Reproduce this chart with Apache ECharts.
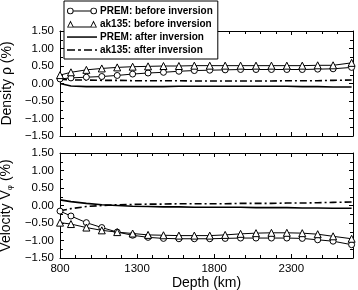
<!DOCTYPE html>
<html lang="en">
<head>
    <meta charset="UTF-8">
    <title>Density and velocity perturbation</title>
    <style>
        html, body { margin: 0; padding: 0; background: #fff; }
        #chart { width: 358px; height: 290px; }
    </style>
</head>
<body>
    <div id="chart"></div>
    <script src="https://cdn.jsdelivr.net/npm/echarts@6/dist/echarts.min.js"></script>
    <script type="text/javascript">
        // depth samples (km)
        var depth = [800, 871, 971, 1071, 1171, 1271, 1371, 1471, 1571, 1671,
            1771, 1871, 1971, 2071, 2171, 2271, 2371, 2471, 2571, 2691]

        // density perturbation (%)
        var rho_prem_before = [0.13, 0.16, 0.18, 0.20, 0.23, 0.27, 0.30, 0.32, 0.35, 0.37,
            0.38, 0.39, 0.40, 0.40, 0.40, 0.40, 0.40, 0.41, 0.42, 0.46]
        var rho_ak_before = [0.24, 0.32, 0.39, 0.43, 0.46, 0.48, 0.49, 0.50, 0.50, 0.51,
            0.51, 0.51, 0.51, 0.51, 0.51, 0.51, 0.51, 0.52, 0.52, 0.59]
        var rho_prem_after = [0.00, -0.07, -0.09, -0.09, -0.09, -0.09, -0.09, -0.09, -0.08, -0.08,
            -0.08, -0.08, -0.08, -0.08, -0.08, -0.08, -0.09, -0.09, -0.10, -0.10]
        var rho_ak_after = [0.12, 0.10, 0.10, 0.09, 0.09, 0.08, 0.08, 0.08, 0.08, 0.07,
            0.07, 0.07, 0.07, 0.07, 0.07, 0.08, 0.08, 0.08, 0.09, 0.10]

        // bulk sound velocity perturbation (%)
        var vphi_prem_before = [-0.16, -0.30, -0.49, -0.63, -0.76, -0.85, -0.91, -0.94, -0.95, -0.95,
            -0.95, -0.94, -0.93, -0.93, -0.93, -0.93, -0.94, -0.98, -1.02, -1.12]
        var vphi_ak_before = [-0.49, -0.53, -0.63, -0.71, -0.76, -0.80, -0.84, -0.85, -0.86, -0.86,
            -0.86, -0.84, -0.81, -0.79, -0.78, -0.78, -0.79, -0.82, -0.88, -0.95]
        var vphi_prem_after = [0.16, 0.11, 0.06, 0.02, 0.00, -0.02, -0.03, -0.04, -0.04, -0.05,
            -0.05, -0.05, -0.05, -0.06, -0.06, -0.06, -0.07, -0.07, -0.08, -0.08]
        var vphi_ak_after = [-0.15, -0.09, -0.03, 0.00, 0.02, 0.03, 0.04, 0.04, 0.05, 0.05,
            0.05, 0.05, 0.06, 0.06, 0.06, 0.07, 0.07, 0.08, 0.09, 0.10]

        var names = ['PREM: before inversion', 'ak135: before inversion',
            'PREM: after inversion', 'ak135: after inversion']
        var x_ticks = [800, 1300, 1800, 2300]

        var font = "'Liberation Sans', Arial, Helvetica, sans-serif"

        // legend icons drawn in a 30x8 box: marker - line - marker, like the paper's key
        var box = 'M0,0 M30,8 '
        var ring = (cx) => `M${cx - 3.3},4 A3.3,3.3 0 1,1 ${cx + 3.3},4 A3.3,3.3 0 1,1 ${cx - 3.3},4 Z ` +
            `M${cx - 2.4},4 A2.4,2.4 0 1,0 ${cx + 2.4},4 A2.4,2.4 0 1,0 ${cx - 2.4},4 Z `
        var tri = (cx) => `M${cx - 3.5},7.5 L${cx},0.6 L${cx + 3.5},7.5 Z ` +
            `M${cx - 2.2},6.8 L${cx + 2.2},6.8 L${cx},2.4 Z `
        var icons = [
            'path://' + box + ring(3.3) + 'M6.6,3.5 H23.4 V4.5 H6.6 Z ' + ring(26.7),
            'path://' + box + tri(3.5) + 'M6.5,6.6 H23.5 V7.5 H6.5 Z ' + tri(26.5),
            'path://' + box + 'M0,3.3 H30 V4.8 H0 Z',
            'path://' + box + 'M0,3.3 H8 V4.8 H0 Z M11,3.3 H14 V4.8 H11 Z M17,3.3 H25 V4.8 H17 Z M28,3.3 H30 V4.8 H28 Z'
        ]

        function pairs(ys) {
            return depth.map((d, i) => [d, ys[i]])
        }
        function fmt(v) {
            return (v < 0 ? '\u2212' : '') + Math.abs(v).toFixed(2)
        }

        // one axis of the frame; labels only where asked
        function xAxis(grid, pos, labels) {
            return {
                type: 'value', gridIndex: grid, position: pos,
                min: 800, max: 2700, interval: 500,
                axisLine: { show: true, onZero: false, lineStyle: { color: '#000', width: 1 } },
                axisTick: { show: true, inside: true, length: 4, lineStyle: { color: '#000' } },
                minorTick: { show: true, splitNumber: 5, length: 3, lineStyle: { color: '#000' } },
                splitLine: { show: false },
                axisLabel: {
                    show: labels, margin: 5, fontSize: 11.5, color: '#000', fontFamily: font,
                    showMaxLabel: false,
                    formatter: v => x_ticks.indexOf(v) >= 0 ? String(v) : ''
                },
                name: labels ? 'Depth (km)' : '',
                nameLocation: 'middle', nameGap: 17,
                nameTextStyle: { fontSize: 14, color: '#000', fontFamily: font }
            }
        }
        function yAxis(grid, pos, name) {
            return {
                type: 'value', gridIndex: grid, position: pos,
                min: -1.5, max: 1.5, interval: 0.5,
                axisLine: { show: true, onZero: false, lineStyle: { color: '#000', width: 1 } },
                axisTick: { show: true, inside: true, length: 4, lineStyle: { color: '#000' } },
                minorTick: { show: true, splitNumber: 2, length: 3, lineStyle: { color: '#000' } },
                splitLine: { show: false },
                axisLabel: {
                    show: !!name, margin: 6, fontSize: 11.5, color: '#000', fontFamily: font,
                    formatter: fmt
                },
                name: name || '',
                nameLocation: 'middle', nameGap: 42, nameRotate: 90,
                nameTextStyle: {
                    fontSize: 14, color: '#000', fontFamily: font,
                    rich: {
                        a: { fontSize: 14, color: '#000', fontFamily: font },
                        s: { fontSize: 8, color: '#000', fontFamily: font, padding: [8, 0, 0, 0] }
                    }
                }
            }
        }

        function marked(name, ys, grid, sym) {
            return {
                name: name, type: 'line', xAxisIndex: grid * 2, yAxisIndex: grid * 2,
                data: pairs(ys), symbol: sym, symbolSize: sym == 'circle' ? 6 : 7, showSymbol: true,
                lineStyle: { color: '#000', width: 1 },
                itemStyle: { color: '#fff', borderColor: '#000', borderWidth: 1 },
                z: 3
            }
        }
        function plain(name, ys, grid, type) {
            return {
                name: name, type: 'line', xAxisIndex: grid * 2, yAxisIndex: grid * 2,
                data: pairs(ys), symbol: 'none',
                lineStyle: { color: '#000', width: 1.6, type: type },
                itemStyle: { color: '#000' },
                z: 2
            }
        }

        var chart = echarts.init(document.getElementById('chart'), null, { renderer: 'canvas' })
        chart.setOption({
            animation: false,
            backgroundColor: '#fff',
            textStyle: { fontFamily: font },
            grid: [
                { left: 60, right: 5, top: 31, height: 105, outerBoundsMode: 'none' },
                { left: 60, right: 5, top: 153, height: 105, outerBoundsMode: 'none' }
            ],
            legend: {
                data: names.map((n, i) => ({
                    name: n, icon: icons[i],
                    itemStyle: { color: '#000', borderWidth: 0 }
                })),
                orient: 'vertical',
                left: 64, top: 1,
                backgroundColor: '#fff',
                borderColor: '#000', borderWidth: 1,
                padding: [5, 5, 4, 3],
                itemWidth: 30, itemHeight: 8, itemGap: 3,
                symbolKeepAspect: false,
                textStyle: { fontSize: 10, fontWeight: 'bold', color: '#000', fontFamily: font, padding: [0, 0, 0, -2] },
                z: 10
            },
            xAxis: [xAxis(0, 'bottom', false), xAxis(0, 'top', false),
                xAxis(1, 'bottom', true), xAxis(1, 'top', false)],
            yAxis: [yAxis(0, 'left', 'Density ρ (%)'), yAxis(0, 'right', null),
                yAxis(1, 'left', '{a|Velocity V}{s|φ}{a| (%)}'), yAxis(1, 'right', null)],
            series: [
                marked(names[0], rho_prem_before, 0, 'circle'),
                marked(names[1], rho_ak_before, 0, 'triangle'),
                plain(names[2], rho_prem_after, 0, 'solid'),
                plain(names[3], rho_ak_after, 0, [7, 3, 2, 3]),
                marked(names[0], vphi_prem_before, 1, 'circle'),
                marked(names[1], vphi_ak_before, 1, 'triangle'),
                plain(names[2], vphi_prem_after, 1, 'solid'),
                plain(names[3], vphi_ak_after, 1, [7, 3, 2, 3])
            ]
        })
    </script>
</body>
</html>
